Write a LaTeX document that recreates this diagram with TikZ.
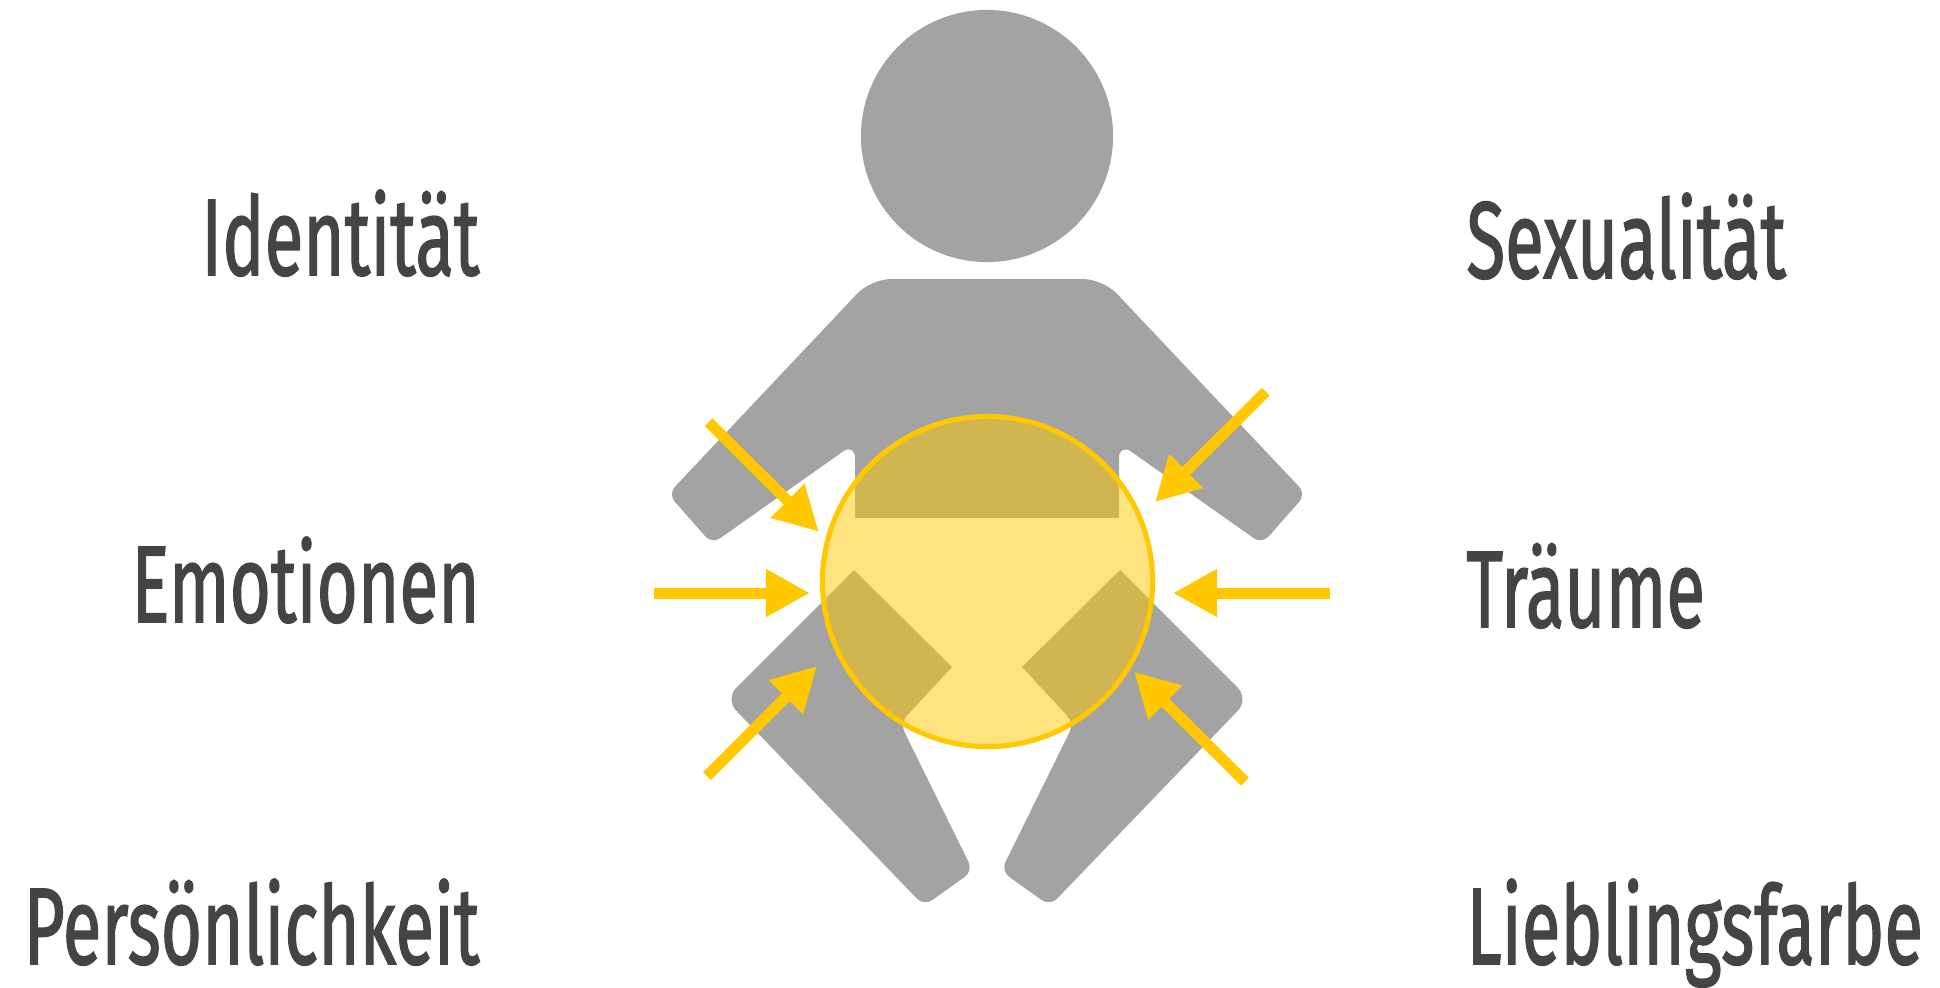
\documentclass[tikz,border=0pt]{standalone}
\usepackage{fontspec}
\setmainfont{Fira Sans}
\newfontfamily\labelfont[FakeBold=1.6]{Fira Sans}
\usepackage{xcolor}
\usetikzlibrary{arrows.meta, positioning}
\definecolor{limbgray}{HTML}{A3A3A3}
\definecolor{lensyellow}{HTML}{FFC800}
\definecolor{labelgray}{HTML}{444444}
\tikzstyle{limb}  = [fill=limbgray, draw=none]
\tikzstyle{lens}  = [circle, minimum size=3.3cm, inner sep=0pt, draw=lensyellow,
                     line width=0.05cm, fill=lensyellow, fill opacity=0.5, draw opacity=1]
\tikzstyle{arr}   = [-{Triangle[length=0.44cm, width=0.45cm]}, line width=0.11cm, draw=lensyellow]
\tikzstyle{lbl}   = [text=labelgray, font=\labelfont\fontsize{31}{31}\selectfont, xscale=0.65, inner sep=0pt]

\begin{document}
\begin{tikzpicture}[x=0.01cm, y=-0.01cm]
  \useasboundingbox (0,0) rectangle (1940,987);

  \node[limb, circle, minimum size=2.52cm, inner sep=0pt] (head) at (987,136) {};

  % torso and arms
  \path[limb] (855,518) [rounded corners=0.15cm] -- (855,443)
    [rounded corners=0.1cm] -- (712,544) -- (668,494)
    [rounded corners=0.2cm] -- (871,279) -- (1103,279)
    [rounded corners=0.1cm] -- (1306,494) -- (1262,544)
    [rounded corners=0.15cm] -- (1119,443) [sharp corners] -- (1119,518) -- cycle;

  % legs
  \path[limb] (854,570) [rounded corners=0.16cm] -- (725,699)
    [rounded corners=0.1cm] -- (924,906) -- (973,871) -- (900,723) [sharp corners] -- (952,667) -- cycle;
  \path[limb] (1120,570) [rounded corners=0.16cm] -- (1249,699)
    [rounded corners=0.1cm] -- (1050,906) -- (1001,871) -- (1074,723) [sharp corners] -- (1022,667) -- cycle;

  \node[lens] (hip) at (987.5,581.5) {};

  \coordinate (ul) at (708.5,422);
  \coordinate (ult) at (818.7,531.7);
  \coordinate (ur) at (1265.7,391.7);
  \coordinate (urt) at (1155,502);
  \coordinate (ml) at (654,593);
  \coordinate (mlt) at (810,593);
  \coordinate (mr) at (1330,593);
  \coordinate (mrt) at (1173,593);
  \coordinate (ll) at (707,776);
  \coordinate (llt) at (817,666);
  \coordinate (lr) at (1245,781.7);
  \coordinate (lrt) at (1134,671.7);

  \draw[arr] (ul) -- (ult);
  \draw[arr] (ur) -- (urt);
  \draw[arr] (ml) -- (mlt);
  \draw[arr] (mr) -- (mrt);
  \draw[arr] (ll) -- (llt);
  \draw[arr] (lr) -- (lrt);

  \node[lbl, anchor=base east] (identity) at (480,275) {Identität};
  \node[lbl, anchor=base east] (emotions) at (480,622) {Emotionen};
  \node[lbl, anchor=base east] (persona) at (480,964) {Persönlichkeit};
  \node[lbl, anchor=base west] (sexuality) at (1466,278) {Sexualität};
  \node[lbl, anchor=base west] (dreams) at (1466,627) {Träume};
  \node[lbl, anchor=base west] (colour) at (1466,964) {Lieblingsfarbe};
\end{tikzpicture}
\end{document}
